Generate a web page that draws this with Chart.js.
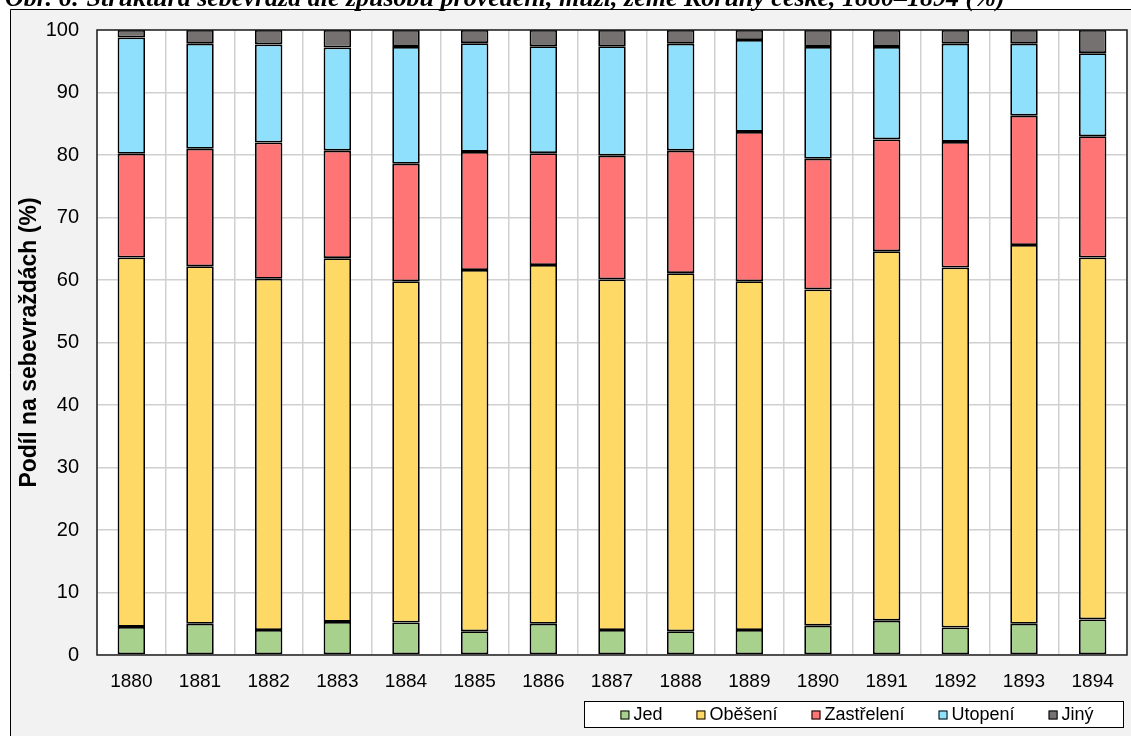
<!DOCTYPE html>
<html>
<head>
<meta charset="utf-8">
<script src="https://cdn.jsdelivr.net/npm/chart.js@4.4.1/dist/chart.umd.min.js"></script>
<style>
  html, body { margin: 0; padding: 0; background: #fff; }
  #wrap { width: 1131px; height: 736px; }
</style>
</head>
<body>
<div id="wrap"><canvas id="myChart"></canvas></div>
<script>
// data
const years = ['1880', '1881', '1882', '1883', '1884', '1885', '1886', '1887',
               '1888', '1889', '1890', '1891', '1892', '1893', '1894'];
const jed        = [4.5, 5.0, 4.0, 5.3, 5.2, 3.8, 5.0, 4.0, 3.8, 4.0, 4.7, 5.5, 4.4, 5.0, 5.7];
const obeseni    = [59.1, 57.2, 56.2, 58.2, 54.6, 57.8, 57.4, 56.1, 57.3, 55.8, 53.8, 59.1, 57.6, 60.6, 57.9];
const zastreleni = [16.6, 18.8, 21.8, 17.2, 18.8, 18.9, 17.9, 19.8, 19.6, 23.9, 20.9, 17.9, 20.1, 20.7, 19.4];
const utopeni    = [18.6, 16.8, 15.7, 16.5, 18.7, 17.4, 17.1, 17.5, 17.1, 14.7, 17.9, 14.8, 15.7, 11.5, 13.3];
const jiny       = [1.2, 2.2, 2.3, 2.8, 2.7, 2.1, 2.6, 2.6, 2.2, 1.6, 2.7, 2.7, 2.2, 2.2, 3.7];
const yTicks     = [0, 10, 20, 30, 40, 50, 60, 70, 80, 90, 100];

const titleText = 'Obr. 6: Struktura sebevražd dle způsobu provedení, muži, země Koruny české, 1880–1894 (%)';
const font = '"Liberation Sans", Arial, sans-serif';

// pozadí, titulek, rámeček grafu a legenda
const framePlugin = {
    id: 'frame',
    beforeDraw(chart) {
        const { ctx, chartArea: a, width, height } = chart;
        ctx.save();
        ctx.fillStyle = '#ffffff';
        ctx.fillRect(0, 0, width, height);
        ctx.fillStyle = '#f2f2f2';
        ctx.fillRect(10, 9, width, height);
        ctx.strokeStyle = '#000';
        ctx.lineWidth = 1;
        ctx.beginPath();
        ctx.moveTo(10.5, height);
        ctx.lineTo(10.5, 9.5);
        ctx.lineTo(width, 9.5);
        ctx.stroke();
        ctx.font = 'italic bold 26px "Liberation Serif", serif';
        ctx.fillStyle = '#000';
        ctx.textBaseline = 'alphabetic';
        ctx.fillText(titleText, 5, 6);
        ctx.fillStyle = '#ffffff';
        ctx.fillRect(a.left, a.top, a.right - a.left, a.bottom - a.top);
        ctx.restore();
    },
    afterDraw(chart) {
        const { ctx, chartArea: a } = chart;
        ctx.save();
        ctx.strokeStyle = '#222';
        ctx.lineWidth = 1.5;
        ctx.strokeRect(a.left, a.top, a.right - a.left, a.bottom - a.top);

        // legenda
        const fx = 584.5, fy = 701.5, fw = 539, fh = 26;
        ctx.fillStyle = '#fff';
        ctx.fillRect(fx, fy, fw, fh);
        ctx.strokeStyle = '#000';
        ctx.lineWidth = 1;
        ctx.strokeRect(fx, fy, fw, fh);
        ctx.font = '18px ' + font;
        ctx.textBaseline = 'middle';
        const box = 9, gapText = 4, gapItem = 34;
        const items = chart.data.datasets.map(ds => ({
            label: ds.label, color: ds.backgroundColor,
            w: box + gapText + ctx.measureText(ds.label).width
        }));
        const total = items.reduce((s, it) => s + it.w, 0) + gapItem * (items.length - 1);
        let x = fx + (fw - total) / 2 + 3;
        const cy = fy + fh / 2 + 0.5;
        items.forEach(it => {
            ctx.fillStyle = it.color;
            ctx.fillRect(x, cy - box / 2, box, box);
            ctx.strokeStyle = '#000';
            ctx.strokeRect(x + 0.5, cy - box / 2 + 0.5, box - 1, box - 1);
            ctx.fillStyle = '#000';
            ctx.fillText(it.label, x + box + gapText, cy);
            x += it.w + gapItem;
        });
        ctx.restore();
    }
};

function series(label, data, color) {
    return {
        label: label,
        data: data,
        backgroundColor: color,
        borderColor: '#000',
        borderWidth: 1.8,
        borderSkipped: false,
        categoryPercentage: 0.4,
        barPercentage: 1.0
    };
}

const ctx = document.getElementById('myChart').getContext('2d');
new Chart(ctx, {
    type: 'bar',
    data: {
        labels: years,
        datasets: [
            series('Jed', jed, '#a9d18e'),
            series('Oběšení', obeseni, '#ffd966'),
            series('Zastřelení', zastreleni, '#ff7575'),
            series('Utopení', utopeni, '#8fe0fd'),
            series('Jiný', jiny, '#767171')
        ]
    },
    options: {
        responsive: true,
        maintainAspectRatio: false,
        animation: false,
        layout: { padding: { left: 10, top: 29, right: 4, bottom: 40 } },
        plugins: {
            legend: { display: false },
            tooltip: { enabled: false }
        },
        scales: {
            x: {
                stacked: true,
                grid: { offset: true, color: '#d0d0d0', lineWidth: 1.5, drawTicks: false },
                border: { display: false },
                ticks: { color: '#000', font: { family: font, size: 19 }, padding: 15, maxRotation: 0 },
                afterFit: s => { s.height = 41; }
            },
            y: {
                stacked: true,
                min: 0,
                max: 100,
                afterBuildTicks: s => { s.ticks = yTicks.map(v => ({ value: v })); },
                grid: { color: '#d0d0d0', lineWidth: 1.5, drawTicks: false },
                border: { display: false },
                ticks: { color: '#000', font: { family: font, size: 20 }, padding: 18 },
                title: {
                    display: true,
                    text: 'Podíl na sebevraždách (%)',
                    color: '#000',
                    font: { family: font, size: 23, weight: 'bold' },
                    padding: { top: 6, bottom: 0 }
                },
                afterFit: s => { s.width = 87; }
            }
        }
    },
    plugins: [framePlugin]
});
</script>
</body>
</html>
